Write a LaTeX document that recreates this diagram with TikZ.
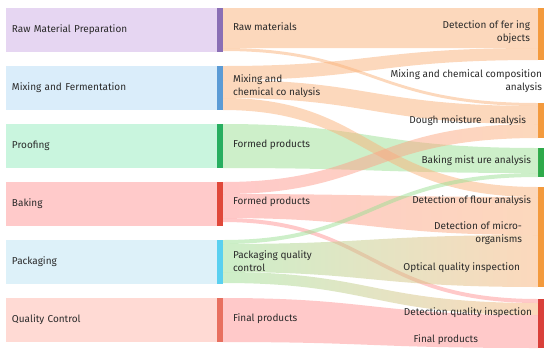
\documentclass[tikz,border=0pt]{standalone}
\usepackage{fontspec}
\setmainfont{Fira Sans}
\usepackage{xcolor}
\usepackage{tikz}
\usetikzlibrary{
  positioning,
  calc
}
\definecolor{skPrep}{HTML}{E6D6F2}
\definecolor{skPrepBar}{HTML}{8A6FB5}
\definecolor{skMix}{HTML}{DAEDFA}
\definecolor{skMixBar}{HTML}{5B9BD5}
\definecolor{skProof}{HTML}{C9F5DE}
\definecolor{skProofBar}{HTML}{27AE60}
\definecolor{skBake}{HTML}{FFCACA}
\definecolor{skBakeBar}{HTML}{E0483A}
\definecolor{skPack}{HTML}{DDF1F9}
\definecolor{skPackBar}{HTML}{5AD0F0}
\definecolor{skQC}{HTML}{FFDAD4}
\definecolor{skQCBar}{HTML}{E8705F}
\definecolor{skOrange}{HTML}{FAB27A}
\definecolor{skGreen}{HTML}{9BDF93}
\definecolor{skRed}{HTML}{FF9393}
\definecolor{skOrangeBar}{HTML}{F39A3D}
\definecolor{skGreenBar}{HTML}{2EAA4A}
\definecolor{skRedBar}{HTML}{D9403A}
\definecolor{skText}{HTML}{2A2A2A}
\tikzset{
  sknode/.style={
    inner sep=0pt, outer sep=0pt, font=\fontsize{10}{13}\selectfont, text=skText
  },
  stagebox/.style={
    sknode, minimum width=211pt, minimum height=44pt, text width=199pt,
    inner xsep=6pt, align=left
  },
  stagebar/.style={sknode, minimum width=6pt, minimum height=44pt},
  rbar/.style={sknode, minimum width=6pt, anchor=north west},
  midlabel/.style={sknode, align=left, anchor=west},
  outlabel/.style={sknode, align=right, anchor=east},
  band/.style={fill opacity=0.5}
}
% one Sankey band: source bar, offset, width, target bar, offset, width, colours
\newcommand{\flowband}[8]{%
  \path ($(#1.north east)+(0,#2)$) coordinate (fa)
        ($(#1.north east)+(0,#2+#3)$) coordinate (fb)
        ($(#4.north west)+(0,#5)$) coordinate (ta)
        ($(#4.north west)+(0,#5+#6)$) coordinate (tb);
  \shade[band, left color=#7, right color=#8]
    (fa) .. controls (midx |- fa) and (midx |- ta) .. (ta)
    -- (tb) .. controls (midx |- tb) and (midx |- fb) .. (fb) -- cycle;
}

\begin{document}
\begin{tikzpicture}[x=1pt, y=-1pt]
  \useasboundingbox (0,0) rectangle (550,360);
  \coordinate (midx) at (372,0);

  % stages
  \node[stagebox, fill=skPrep, anchor=north west] (prep) at (6,8) {Raw Material Preparation};
  \node[stagebox, fill=skMix, below=14pt of prep] (mix) {Mixing and Fermentation};
  \node[stagebox, fill=skProof, below=14pt of mix] (proof) {Proofing};
  \node[stagebox, fill=skBake, below=14pt of proof] (bake) {Baking};
  \node[stagebox, fill=skPack, below=14pt of bake] (pack) {Packaging};
  \node[stagebox, fill=skQC, below=14pt of pack] (qc) {Quality Control};

  \node[stagebar, fill=skPrepBar, right=0pt of prep] (prepbar) {};
  \node[stagebar, fill=skMixBar, right=0pt of mix] (mixbar) {};
  \node[stagebar, fill=skProofBar, right=0pt of proof] (proofbar) {};
  \node[stagebar, fill=skBakeBar, right=0pt of bake] (bakebar) {};
  \node[stagebar, fill=skPackBar, right=0pt of pack] (packbar) {};
  \node[stagebar, fill=skQCBar, right=0pt of qc] (qcbar) {};

  % analyses
  \node[rbar, fill=skOrangeBar, minimum height=52pt] (objbar) at (538,8) {};
  \node[rbar, fill=skOrangeBar, minimum height=35pt] (doughbar) at (538,103) {};
  \node[rbar, fill=skGreenBar, minimum height=29pt] (bakingbar) at (538,148) {};
  \node[rbar, fill=skOrangeBar, minimum height=100pt] (flourbar) at (538,187) {};
  \node[rbar, fill=skRedBar, minimum height=49pt] (finalbar) at (538,299) {};

  % flows
  \flowband{prepbar}{0}{40}{objbar}{0}{40}{skOrange}{skOrange}
  \flowband{prepbar}{40}{3}{doughbar}{0}{3}{skOrange}{skOrange}
  \flowband{mixbar}{0}{14}{objbar}{40}{12}{skOrange}{skOrange}
  \flowband{mixbar}{14}{18}{doughbar}{3}{18}{skOrange}{skOrange}
  \flowband{proofbar}{0}{44}{bakingbar}{0}{25}{skGreen}{skGreen}
  \flowband{mixbar}{32}{12}{flourbar}{0}{10}{skOrange}{skOrange}
  \flowband{bakebar}{0}{12}{doughbar}{21}{14}{skRed}{skOrange}
  \flowband{bakebar}{12}{24}{flourbar}{10}{38}{skRed}{skOrange}
  \flowband{bakebar}{36}{4}{finalbar}{0}{4}{skRed}{skRed}
  \flowband{packbar}{0}{4}{bakingbar}{25}{4}{skGreen}{skGreen}
  \flowband{packbar}{4}{28}{flourbar}{48}{52}{skGreen}{skOrange}
  \flowband{packbar}{32}{11}{finalbar}{4}{12}{skGreen}{skOrange}
  \flowband{qcbar}{0}{44}{finalbar}{16}{33}{skRed}{skRed}

  % products
  \node[midlabel] (rawlbl) at ($(prepbar.east)+(10,-3)$) {Raw materials};
  \node[midlabel] (mixlbl) at ($(mixbar.east)+(10,-2)$) {Mixing and\\chemical co nalysis};
  \node[midlabel] (formlbl) at ($(proofbar.east)+(10,-1)$) {Formed products};
  \node[midlabel] (formlblb) at ($(bakebar.east)+(10,-2)$) {Formed products};
  \node[midlabel] (packlbl) at ($(packbar.east)+(10,-1)$) {Packaging quality\\control};
  \node[midlabel] (finallbl) at ($(qcbar.east)+(10,-1)$) {Final products};

  \node[outlabel] (objlbl) at (530,32.5) {Detection of fer ing\\objects};
  \node[outlabel] (complbl) at (542,81.5) {Mixing and chemical composition\\analysis};
  \node[outlabel] (doughlbl) at (526,121) {Dough moisture\ \ \ analysis};
  \node[outlabel] (bakinglbl) at (531,161) {Baking mist ure analysis};
  \node[outlabel] (flourlbl) at (531,201) {Detection of flour analysis};
  \node[outlabel] (microlbl) at (522,233.5) {Detection of micro-\\organisms};
  \node[outlabel] (opticlbl) at (520,268) {Optical quality inspection};
  \node[outlabel] (qualitylbl) at (532,313) {Detection quality inspection};
  \node[outlabel] (prodlbl) at (478,340) {Final products};
\end{tikzpicture}
\end{document}
